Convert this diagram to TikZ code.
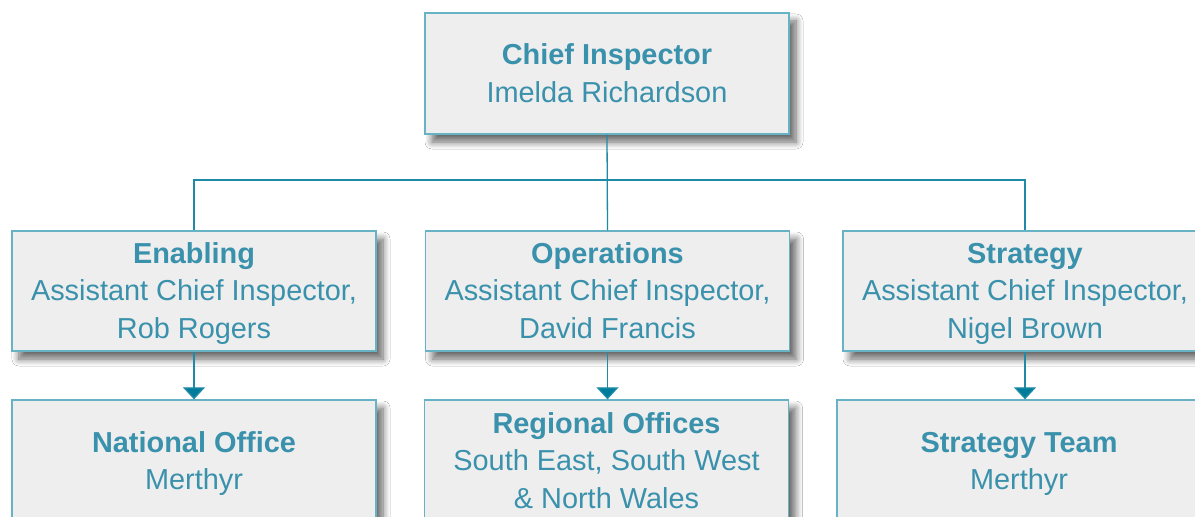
\documentclass[tikz,border=0pt]{standalone}
\usepackage{fontspec}
\setmainfont{Liberation Sans}
\usetikzlibrary{arrows.meta,shadows.blur}
\definecolor{boxline}{RGB}{104,178,198}
\definecolor{conn}{RGB}{30,138,166}
\definecolor{tipc}{RGB}{0,124,155}
\definecolor{txt}{RGB}{58,145,172}
\definecolor{boxfill}{RGB}{238,238,238}
\tikzset{
  orgbox/.style={draw=boxline, line width=1.3bp, fill=boxfill, minimum width=364bp,
    inner sep=0pt,
    blur shadow={shadow xshift=7bp, shadow yshift=-8bp, shadow blur radius=7bp, shadow opacity=60, shadow blur steps=8}},
  orgtext/.style={inner sep=0pt, align=center, text=txt, yshift=-2.5bp,
    font=\fontsize{29}{37.5}\selectfont},
  conline/.style={draw=conn, line width=1.3bp},
  conarrow/.style={conline, -{Triangle[width=22bp,length=12bp,fill=tipc]}}
}
\newcommand{\orgln}[1]{\strut #1}
\begin{document}
\begin{tikzpicture}[x=1bp,y=-1bp]
\clip (0,0) rectangle (1195,517);
\fill[white] (0,0) rectangle (1195,517);
\node[orgbox, minimum height=121bp] (top) at (607,73.5) {};
\node[orgbox, minimum height=120bp] (L) at (194,291) {};
\node[orgbox, minimum height=120bp] (M) at (607.5,291) {};
\node[orgbox, minimum height=120bp] (R) at (1025,291) {};
\node[orgbox, minimum height=122bp] (BL) at (194,461) {};
\node[orgbox, minimum height=122bp] (BM) at (606.5,461) {};
\node[orgbox, minimum height=122bp] (BR) at (1019,461) {};
\node[orgtext] (ttop) at (top) {\orgln{\textbf{Chief Inspector}}\\\orgln{Imelda Richardson}};
\node[orgtext] (tL) at (L) {\orgln{\textbf{Enabling}}\\\orgln{Assistant Chief Inspector,}\\\orgln{Rob Rogers}};
\node[orgtext] (tM) at (M) {\orgln{\textbf{Operations}}\\\orgln{Assistant Chief Inspector,}\\\orgln{David Francis}};
\node[orgtext] (tR) at (R) {\orgln{\textbf{Strategy}}\\\orgln{Assistant Chief Inspector,}\\\orgln{Nigel Brown}};
\node[orgtext] (tBL) at (BL) {\orgln{\textbf{National Office}}\\\orgln{Merthyr}};
\node[orgtext] (tBM) at (BM) {\orgln{\textbf{Regional Offices}}\\\orgln{South East, South West}\\\orgln{\&~North Wales}};
\node[orgtext] (tBR) at (BR) {\orgln{\textbf{Strategy Team}}\\\orgln{Merthyr}};
\coordinate (j) at (606,180);
\draw[conline] (top.south) -- (M.north);
\draw[conline] (L.north) |- (j) -| (R.north);
\draw[conarrow] (L.south) -- (L.south |- BL.north);
\draw[conarrow] (M.south) -- (M.south |- BM.north);
\draw[conarrow] (R.south) -- (R.south |- BR.north);
\end{tikzpicture}
\end{document}
